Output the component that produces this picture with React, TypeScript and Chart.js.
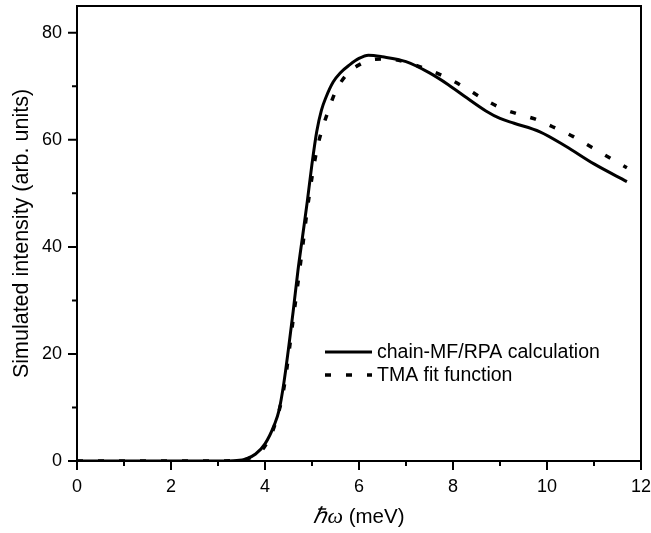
import React, { useEffect, useRef } from "react";
import { Chart, registerables } from "chart.js";

Chart.register(...registerables);

// chain-MF/RPA calculation (solid)
const solidX = [0, 1, 2, 3, 3.4, 3.6, 3.8, 4.0, 4.2, 4.3, 4.4, 4.5, 4.6, 4.7, 4.8, 4.9, 5.0, 5.1, 5.2, 5.3, 5.45, 5.6, 5.8, 6.0, 6.2, 6.5, 7.0, 7.5, 7.9, 8.3, 8.7, 9.0, 9.3, 9.85, 10.4, 11.0, 11.7];
const solidY = [0, 0, 0, 0, 0.1, 0.4, 1.3, 3.2, 6.8, 9.5, 14.5, 21, 28, 35.5, 42, 48.5, 55.5, 61.5, 65.5, 68, 70.8, 72.5, 74, 75.2, 75.8, 75.5, 74.6, 72.5, 70.3, 67.8, 65.4, 64.0, 63.1, 61.5, 58.8, 55.5, 52.2];

// TMA fit function (dashed)
const dashX = [0, 1, 2, 3, 3.4, 3.6, 3.8, 4.0, 4.2, 4.4, 4.6, 4.8, 4.9, 5.0, 5.1, 5.2, 5.35, 5.5, 5.75, 6.0, 6.3, 6.6, 7.0, 7.44, 7.87, 8.26, 8.64, 9.03, 9.35, 9.74, 10.13, 10.56, 10.95, 11.34, 11.7];
const dashY = [0, 0, 0, 0, 0.1, 0.35, 1.1, 2.8, 6.5, 13.5, 26.5, 40, 47, 53, 58, 61.5, 65.5, 69, 72.3, 74, 75, 75.1, 74.5, 73.2, 71.6, 69.7, 67.7, 65.9, 64.9, 63.9, 62.4, 60.6, 58.6, 56.6, 54.8];

const xTicksLabeled = [0, 2, 4, 6, 8, 10, 12];
const yTicksLabeled = [0, 20, 40, 60, 80];

const seriesNames = ["chain-MF/RPA calculation", "TMA fit function"];
const xTitleItalic = "\u210F\u03C9";
const xTitleRest = " (meV)";
const yTitle = "Simulated intensity (arb. units)";

const FONT = "'Liberation Sans', Arial, Helvetica, sans-serif";
const SERIF = "'Liberation Serif', 'Times New Roman', serif";

const framePlugin = {
  id: "framePlugin",
  afterDraw(chart: any) {
    const ctx = chart.ctx;
    const { left, right, top, bottom } = chart.chartArea;
    const xs = chart.scales.x;
    const ys = chart.scales.y;
    ctx.save();
    ctx.strokeStyle = "#000";
    ctx.lineWidth = 2;
    ctx.strokeRect(left, top, right - left, bottom - top);
    // ticks
    ctx.beginPath();
    xs.ticks.forEach((t: any) => {
      const px = xs.getPixelForValue(t.value);
      const len = xTicksLabeled.includes(t.value) ? 9 : 5;
      ctx.moveTo(px, bottom);
      ctx.lineTo(px, bottom + len);
    });
    ys.ticks.forEach((t: any) => {
      const py = ys.getPixelForValue(t.value);
      const len = yTicksLabeled.includes(t.value) ? 9 : 5;
      ctx.moveTo(left, py);
      ctx.lineTo(left - len, py);
    });
    ctx.stroke();

    // legend
    ctx.fillStyle = "#000";
    ctx.font = `19.5px ${FONT}`;
    ctx.textBaseline = "middle";
    ctx.textAlign = "left";
    const lx0 = 325, lx1 = 372, ly1 = 352, ly2 = 375;
    ctx.lineWidth = 3;
    ctx.setLineDash([]);
    ctx.beginPath();
    ctx.moveTo(lx0, ly1);
    ctx.lineTo(lx1, ly1);
    ctx.stroke();
    ctx.lineWidth = 3.5;
    ctx.setLineDash([6, 15]);
    ctx.beginPath();
    ctx.moveTo(lx0, ly2);
    ctx.lineTo(lx1, ly2);
    ctx.stroke();
    ctx.setLineDash([]);
    ctx.fillText(seriesNames[0], 377, ly1 + 1);
    ctx.fillText(seriesNames[1], 377, ly2 + 1);

    // x title
    ctx.textBaseline = "alphabetic";
    ctx.font = `italic 22px ${SERIF}`;
    const wI = ctx.measureText(xTitleItalic).width;
    ctx.font = `20.5px ${FONT}`;
    const wR = ctx.measureText(xTitleRest).width;
    const cx = (left + right) / 2;
    const sx = cx - (wI + wR) / 2;
    ctx.font = `italic 22px ${SERIF}`;
    ctx.fillText(xTitleItalic, sx, 523);
    ctx.font = `20.5px ${FONT}`;
    ctx.fillText(xTitleRest, sx + wI, 523);

    // y title
    ctx.save();
    ctx.translate(28, (top + bottom) / 2);
    ctx.rotate(-Math.PI / 2);
    ctx.textAlign = "center";
    ctx.font = `21.5px ${FONT}`;
    ctx.fillText(yTitle, 0, 0);
    ctx.restore();
    ctx.restore();
  },
};

const zeroPad = (s: any) => {
  s.paddingLeft = 0;
  s.paddingRight = 0;
  s.paddingTop = 0;
  s.paddingBottom = 0;
};

export default function App() {
  const ref = useRef<HTMLCanvasElement | null>(null);
  useEffect(() => {
    if (!ref.current) return;
    const chart = new Chart(ref.current, {
      type: "line",
      data: {
        datasets: [
          {
            label: seriesNames[0],
            data: solidX.map((x, i) => ({ x, y: solidY[i] })),
            borderColor: "#000",
            borderWidth: 3,
            pointRadius: 0,
            cubicInterpolationMode: "monotone",
            fill: false,
          },
          {
            label: seriesNames[1],
            data: dashX.map((x, i) => ({ x, y: dashY[i] })),
            borderColor: "#000",
            borderWidth: 3.5,
            borderDash: [6, 15],
            pointRadius: 0,
            cubicInterpolationMode: "monotone",
            fill: false,
          },
        ],
      },
      options: {
        animation: false,
        responsive: false,
        devicePixelRatio: 1,
        layout: { autoPadding: false, padding: { left: 0, right: 10, top: 6, bottom: 0 } },
        plugins: { legend: { display: false }, tooltip: { enabled: false } },
        scales: {
          x: {
            type: "linear",
            min: 0,
            max: 12,
            grid: { display: false, drawTicks: false },
            border: { display: false },
            ticks: {
              stepSize: 1,
              autoSkip: false,
              maxRotation: 0,
              padding: 15,
              color: "#000",
              font: { family: FONT, size: 18 },
              callback: (v: any) => (xTicksLabeled.includes(Number(v)) ? String(v) : ""),
            },
            afterFit: (s: any) => {
              s.height = 72;
              zeroPad(s);
            },
          },
          y: {
            type: "linear",
            min: 0,
            max: 85,
            grid: { display: false, drawTicks: false },
            border: { display: false },
            ticks: {
              stepSize: 10,
              includeBounds: false,
              autoSkip: false,
              padding: 15,
              color: "#000",
              font: { family: FONT, size: 18 },
              callback: (v: any) => (yTicksLabeled.includes(Number(v)) ? String(v) : ""),
            },
            afterFit: (s: any) => {
              s.width = 77;
              zeroPad(s);
            },
          },
        },
      },
      plugins: [framePlugin],
    } as any);
    return () => chart.destroy();
  }, []);
  return (
    <div style={{ position: "fixed", left: 0, top: 0, width: 651, height: 533, background: "#fff" }}>
      <canvas ref={ref} width={651} height={533} style={{ display: "block" }} />
    </div>
  );
}
